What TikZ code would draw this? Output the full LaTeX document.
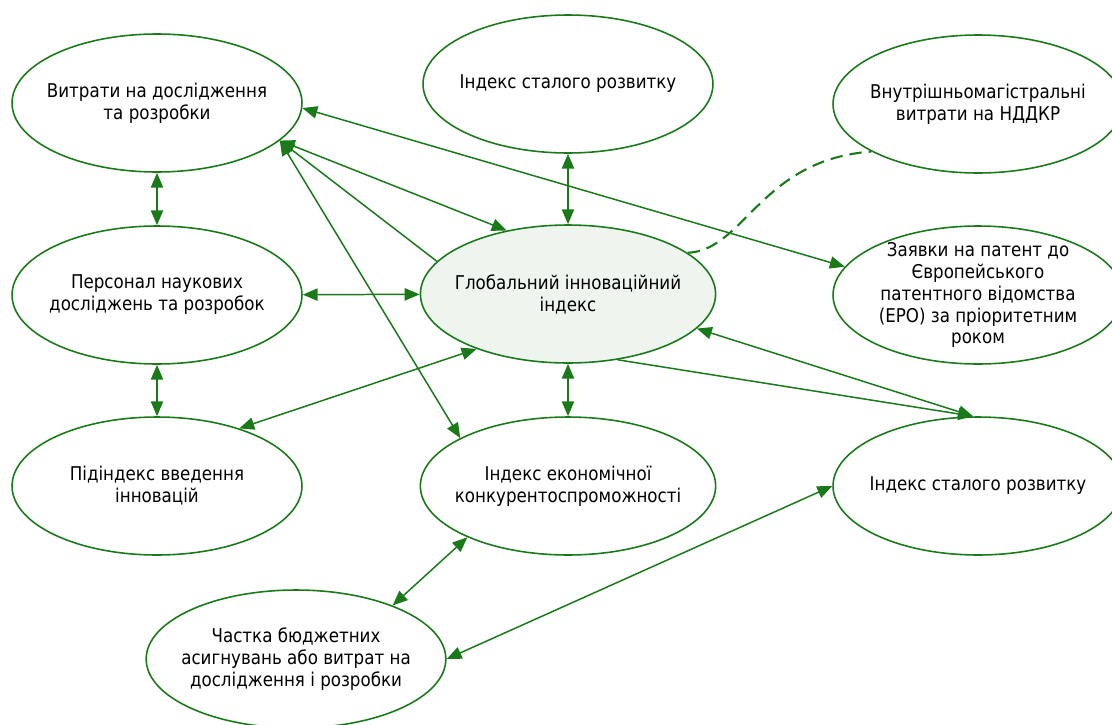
\documentclass[tikz,border=0pt]{standalone}
\usepackage{fontspec}
\setmainfont{DejaVu Sans}[FakeStretch=0.88]
\usepackage{tikz}
\usetikzlibrary{shapes.geometric,arrows.meta}
\definecolor{linkgreen}{RGB}{26,122,26}
\definecolor{corefill}{RGB}{238,245,239}
\tikzset{>={Triangle[length=8.5pt,width=7pt]}}

\begin{document}
\begin{tikzpicture}[x=0.02cm, y=-0.02cm,
    bubble/.style={ellipse, draw=linkgreen, line width=0.9pt, minimum width=5.8cm,
        minimum height=2.76cm, inner sep=-5pt, align=center,
        font=\fontsize{10.8}{12.5}\selectfont},
    link/.style={draw=linkgreen, line width=0.85pt, <->},
    onelink/.style={draw=linkgreen, line width=0.85pt, ->}]
    \useasboundingbox (0,0) rectangle (1112,724);
    % Ellipses
    \node [bubble] (vyt) at (157,103) {Витрати на дослідження\\та розробки};
    \node [bubble] (stal1) at (568,84) {Індекс сталого розвитку};
    \node [bubble] (vnutr) at (978,104) {Внутрішньомагістральні\\витрати на НДДКР};
    \node [bubble] (pers) at (157,295) {Персонал наукових\\досліджень та розробок};
    \node [bubble, fill=corefill] (gii) at (568,294) {Глобальний інноваційний\\індекс};
    \node [bubble] (zayav) at (978,295) {Заявки на патент до\\Європейського\\патентного відомства\\(EPO) за пріоритетним\\роком};
    \node [bubble] (pidind) at (157,486) {Підіндекс введення\\інновацій};
    \node [bubble] (ekon) at (568,486) {Індекс економічної\\конкурентоспроможності};
    \node [bubble] (stal2) at (978,486) {Індекс сталого розвитку};
    \node [bubble] (chast) at (296,659) {Частка бюджетних\\асигнувань або витрат на\\дослідження і розробки};
    % Vertical links
    \draw [link] (vyt) -- (pers);
    \draw [link] (pers) -- (pidind);
    \draw [link] (stal1) -- (gii);
    \draw [link] (gii) -- (ekon);
    \draw [link] (pers) -- (gii);
    % Links to the costs
    \draw [link] (vyt.-17) -- (gii.134);
    \draw [onelink] (gii.166.6) -- (vyt.-17);
    \draw [link] (vyt.-17) -- (ekon.156.5);
    \draw [link] (vyt.-2) -- (zayav.168.5);
    % Lower links
    \draw [link] (pidind.35.4) -- (gii.211);
    \draw [link] (gii.-15.6) -- (stal2.94);
    \draw [onelink] (gii.-53.4) -- (stal2.94);
    \draw [link] (ekon.207.7) -- (chast.29);
    \draw [link] (chast.east) -- (stal2.west);
    % Dashed
    \draw [linkgreen, line width=1.2pt, dash pattern=on 7pt off 4pt]
        (gii.19.6) .. controls (745,250) and (760,160) .. (vnutr.204.4);
\end{tikzpicture}
\end{document}
